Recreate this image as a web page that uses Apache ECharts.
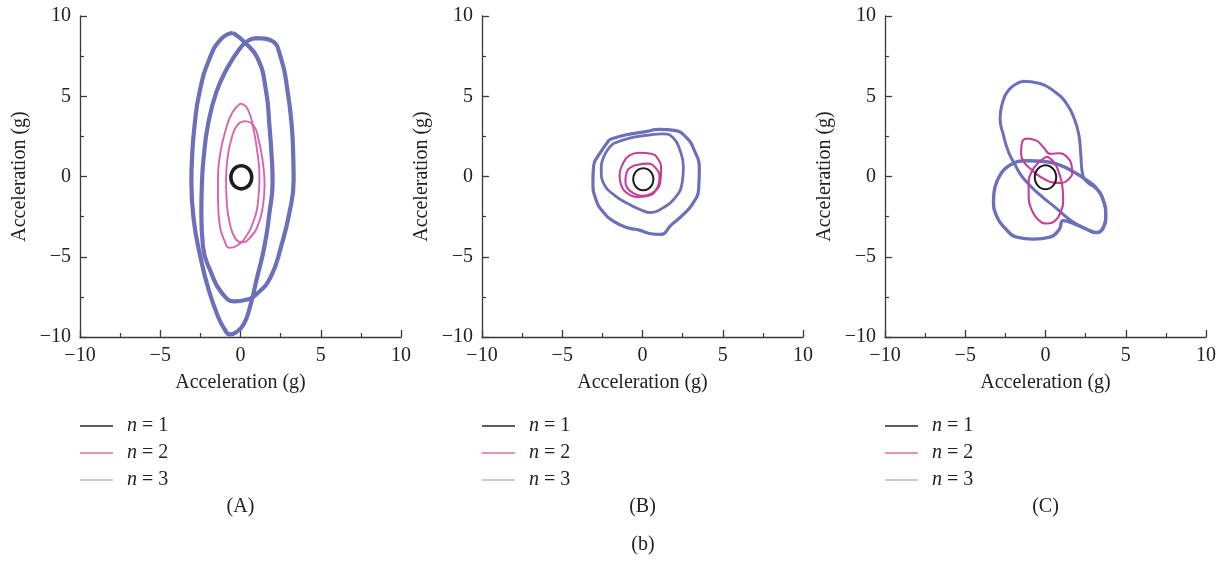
<!DOCTYPE html>
<html><head><meta charset="utf-8">
<script src="https://cdn.jsdelivr.net/npm/echarts@6/dist/echarts.min.js"></script>
<style>html,body{margin:0;padding:0;background:#fff}#c{width:1227px;height:561px}</style>
</head><body><div id="c"></div>
<script>
// ---- labels ----
const panelLabels = ['(A)', '(B)', '(C)'];
const figureLabel = '(b)';
const seriesNames = ['n = 1', 'n = 2', 'n = 3'];
const axisName = 'Acceleration (g)';
const axisMin = -10, axisMax = 10, axisStep = 5;

// ---- Panel A ----
const A_n1 = [[0.7,-0.05],[0.613,0.31],[0.375,0.574],[0.05,0.67],[-0.275,0.574],[-0.513,0.31],[-0.6,-0.05],[-0.513,-0.41],[-0.275,-0.674],[0.05,-0.77],[0.375,-0.674],[0.613,-0.41],[0.7,-0.05]];
const A_n2_a = [[0,4.55],[0.45,4.2],[0.8,3.0],[1.05,1.5],[1.18,0],[1.1,-1.5],[0.8,-2.8],[0.3,-3.8],[-0.2,-4.3],[-0.7,-4.45],[-1.0,-4.0],[-1.3,-3.0],[-1.4,-1.5],[-1.4,0],[-1.25,1.5],[-0.95,2.8],[-0.5,4.0],[0,4.55]];
const A_n2_b = [[0.25,3.45],[0.8,3.2],[1.15,2.2],[1.4,0.8],[1.5,-0.5],[1.4,-1.8],[1.1,-3.0],[0.6,-3.8],[0.1,-4.1],[-0.3,-3.9],[-0.65,-3.0],[-0.85,-1.7],[-0.9,-0.2],[-0.8,1.2],[-0.55,2.4],[-0.2,3.2],[0.25,3.45]];
const A_n3_a = [[-0.48,8.96],[0.25,8.37],[1.08,7.34],[1.6,5.27],[1.8,3.2],[1.95,1.13],[2.0,-0.32],[1.8,-2.29],[1.49,-4.36],[1.0,-6.43],[0.6,-8.09],[0.2,-9.2],[-0.3,-9.72],[-0.68,-9.84],[-1.0,-9.5],[-1.41,-8.71],[-2.0,-7.0],[-2.5,-5.0],[-2.9,-2.8],[-3.06,-0.32],[-3.02,1.13],[-2.86,3.2],[-2.55,5.27],[-1.93,7.34],[-1.2,8.58],[-0.48,8.96]];
const A_n3_b = [[0.97,8.62],[1.9,8.48],[2.53,7.34],[2.94,5.27],[3.19,3.2],[3.29,1.13],[3.31,-0.22],[3.04,-2.29],[2.53,-4.36],[1.9,-6.22],[1.08,-7.26],[0.3,-7.7],[-0.37,-7.78],[-1.2,-7.2],[-1.82,-6.01],[-2.34,-4.36],[-2.44,-2.29],[-2.4,-0.32],[-2.3,1.13],[-2.03,3.2],[-1.5,5.27],[-0.8,6.8],[-0.1,7.9],[0.45,8.45],[0.97,8.62]];

// ---- Panel B ----
const B_n1 = [[0.68,-0.17],[0.596,0.175],[0.365,0.428],[0.05,0.52],[-0.265,0.428],[-0.496,0.175],[-0.58,-0.17],[-0.496,-0.515],[-0.265,-0.768],[0.05,-0.86],[0.365,-0.768],[0.596,-0.515],[0.68,-0.17]];
const B_n2_a = [[-0.19,1.48],[0.54,1.42],[0.95,1.11],[1.16,0.49],[1.12,-0.24],[0.85,-0.86],[0.33,-1.21],[-0.29,-1.27],[-0.91,-1.07],[-1.32,-0.55],[-1.43,0.07],[-1.22,0.8],[-0.81,1.32],[-0.19,1.48]];
const B_n2_b = [[-0.29,0.73],[0.33,0.8],[0.85,0.49],[1.06,-0.03],[0.95,-0.65],[0.54,-1.07],[0.02,-1.21],[-0.5,-1.07],[-0.91,-0.76],[-1.06,-0.24],[-0.98,0.28],[-0.7,0.59],[-0.29,0.73]];
const B_n3_a = [[-2.05,2.31],[-1.01,2.6],[0.02,2.76],[1.06,2.93],[1.99,2.87],[2.71,2.45],[3.23,1.63],[3.54,0.49],[3.5,-0.76],[3.13,-1.69],[2.5,-2.41],[1.78,-3.03],[1.16,-3.61],[0.43,-3.55],[-0.19,-3.34],[-0.91,-3.2],[-1.74,-2.83],[-2.46,-2.2],[-2.92,-1.38],[-3.09,-0.34],[-3.04,0.69],[-2.67,1.42],[-2.05,2.31]];
const B_n3_b = [[-1.84,2.04],[-0.81,2.39],[0.23,2.56],[1.26,2.66],[1.88,2.45],[2.3,1.73],[2.55,0.59],[2.46,-0.45],[1.99,-1.38],[1.26,-1.96],[0.54,-2.25],[-0.19,-2.04],[-0.91,-1.69],[-1.74,-1.17],[-2.36,-0.55],[-2.57,0.38],[-2.42,1.21],[-1.84,2.04]];

// ---- Panel C ----
const C_n1 = [[0.67,-0.05],[0.58,0.325],[0.335,0.6],[0,0.7],[-0.335,0.6],[-0.58,0.325],[-0.67,-0.05],[-0.58,-0.425],[-0.335,-0.7],[0,-0.8],[0.335,-0.7],[0.58,-0.425],[0.67,-0.05]];
const C_n2_a = [[-1.2,2.37],[-0.6,2.25],[-0.15,1.85],[0.3,1.42],[0.9,1.45],[1.35,1.2],[1.62,0.7],[1.67,0.2],[1.45,-0.15],[1.0,-0.4],[0.5,-0.38],[0.0,-0.2],[-0.5,0.1],[-0.9,0.45],[-1.3,0.85],[-1.52,1.4],[-1.5,1.9],[-1.4,2.25],[-1.2,2.37]];
const C_n2_b = [[0.1,1.25],[-0.45,0.85],[-0.86,0.3],[-1.05,-0.5],[-1.05,-1.3],[-0.85,-2.1],[-0.45,-2.7],[0.07,-2.93],[0.6,-2.75],[0.95,-2.2],[1.1,-1.4],[1.05,-0.6],[0.85,0.2],[0.55,0.85],[0.1,1.25]];
const C_n3_a = [[-1.48,5.93],[-0.34,5.79],[0.59,5.27],[1.31,4.54],[1.79,3.61],[2.08,2.58],[2.2,1.34],[2.3,0.2],[2.55,-0.3],[3.18,-0.78],[3.6,-1.5],[3.74,-2.4],[3.57,-3.2],[3.15,-3.5],[2.5,-3.25],[1.6,-2.75],[0.7,-2.0],[-0.34,-1.15],[-1.38,-0.11],[-1.89,0.71],[-2.31,1.54],[-2.62,2.58],[-2.83,3.61],[-2.72,4.44],[-2.31,5.37],[-1.48,5.93]];
const C_n3_b = [[-2.83,0.09],[-2.2,0.71],[-1.17,0.98],[0.07,0.92],[0.9,0.71],[1.73,0.3],[2.56,-0.22],[3.18,-0.73],[3.59,-1.46],[3.76,-2.39],[3.59,-3.22],[3.18,-3.49],[2.6,-3.3],[1.8,-2.95],[1.1,-2.75],[0.85,-3.3],[0.28,-3.78],[-0.76,-3.9],[-1.79,-3.78],[-2.52,-3.22],[-3.03,-2.5],[-3.24,-1.46],[-3.14,-0.63],[-2.83,0.09]];

// ---- styles ----
const FONT = 'Liberation Serif';
const colBlack = '#1c1c1c', colBlue = '#6c70b8';
const colPinkA = '#d566ae', colPinkBC = '#c2409a';
const legendColors = ['#262626', '#e06aae', '#b4b4da'];
const gridLefts = [80, 482, 885];

const grids = gridLefts.map(l => ({left: l, top: 16, width: 321, height: 321, outerBoundsMode: 'none'}));
const axisCommon = (i) => ({
  gridIndex: i, type: 'value', min: axisMin, max: axisMax, interval: axisStep,
  name: axisName, nameLocation: 'middle',
  nameTextStyle: {fontFamily: FONT, fontSize: 20, color: '#222'},
  axisLine: {show: true, onZero: false, lineStyle: {color: '#3a3a3a', width: 1.3}},
  axisTick: {show: true, inside: true, length: 7, lineStyle: {color: '#3a3a3a', width: 1.3}},
  minorTick: {show: true, splitNumber: 2, length: 4, lineStyle: {color: '#3a3a3a', width: 1.2}},
  splitLine: {show: false},
  axisLabel: {fontFamily: FONT, fontSize: 20, color: '#222',
    formatter: v => String(v).replace('-', '\u2212')}
});
const xAxes = [0,1,2].map(i => Object.assign(axisCommon(i), {nameGap: 36, axisLabel: Object.assign(axisCommon(i).axisLabel, {margin: 9})}));
const yAxes = [0,1,2].map(i => Object.assign(axisCommon(i), {nameGap: 50, axisLabel: Object.assign(axisCommon(i).axisLabel, {margin: 9})}));

function line(data, gi, nameIdx, color, width, z) {
  return {type: 'line', name: seriesNames[nameIdx], xAxisIndex: gi, yAxisIndex: gi, data: data,
    showSymbol: false, symbol: 'none', smooth: 0.5, z: z,
    lineStyle: {color: color, width: width}, itemStyle: {color: color}, animation: false};
}
const series = [
  line(A_n3_a, 0, 2, colBlue, 4.2, 2), line(A_n3_b, 0, 2, colBlue, 4.2, 2),
  line(A_n2_a, 0, 1, colPinkA, 1.9, 3), line(A_n2_b, 0, 1, colPinkA, 1.9, 3),
  line(A_n1, 0, 0, colBlack, 3.6, 4),
  line(B_n3_a, 1, 2, colBlue, 3.2, 2), line(B_n3_b, 1, 2, colBlue, 2.8, 2),
  line(B_n2_a, 1, 1, colPinkBC, 2.1, 3), line(B_n2_b, 1, 1, colPinkBC, 2.1, 3),
  line(B_n1, 1, 0, colBlack, 2.0, 4),
  line(C_n3_a, 2, 2, colBlue, 3.0, 2), line(C_n3_b, 2, 2, colBlue, 3.4, 2),
  line(C_n2_a, 2, 1, colPinkBC, 2.1, 3), line(C_n2_b, 2, 1, colPinkBC, 2.1, 3),
  line(C_n1, 2, 0, colBlack, 2.0, 4)
];

const legends = gridLefts.map(l => ({
  left: l, top: 416, orient: 'vertical', itemGap: 7, itemWidth: 33, itemHeight: 1.6,
  icon: 'rect', selectedMode: false, padding: 0,
  data: seriesNames.map((n, k) => ({name: n, itemStyle: {color: legendColors[k]}})),
  formatter: n => '{i|n} = ' + n.slice(-1),
  textStyle: {fontFamily: FONT, fontSize: 20, color: '#222', padding: [0, 0, 0, 9],
    rich: {i: {fontFamily: FONT, fontSize: 20, fontStyle: 'italic', color: '#222'}}}
}));

const titles = panelLabels.map((t, i) => ({
  text: t, left: gridLefts[i] + 160.5, top: 497, textAlign: 'center', padding: 0,
  textStyle: {fontFamily: FONT, fontSize: 20, fontWeight: 'normal', color: '#222'}
}));
titles.push({text: figureLabel, left: 643, top: 535, textAlign: 'center', padding: 0,
  textStyle: {fontFamily: FONT, fontSize: 20, fontWeight: 'normal', color: '#222'}});

const chart = echarts.init(document.getElementById('c'), null, {renderer: 'canvas'});
chart.setOption({
  backgroundColor: '#fff', animation: false,
  title: titles, legend: legends, grid: grids, xAxis: xAxes, yAxis: yAxes, series: series
});
</script></body></html>
